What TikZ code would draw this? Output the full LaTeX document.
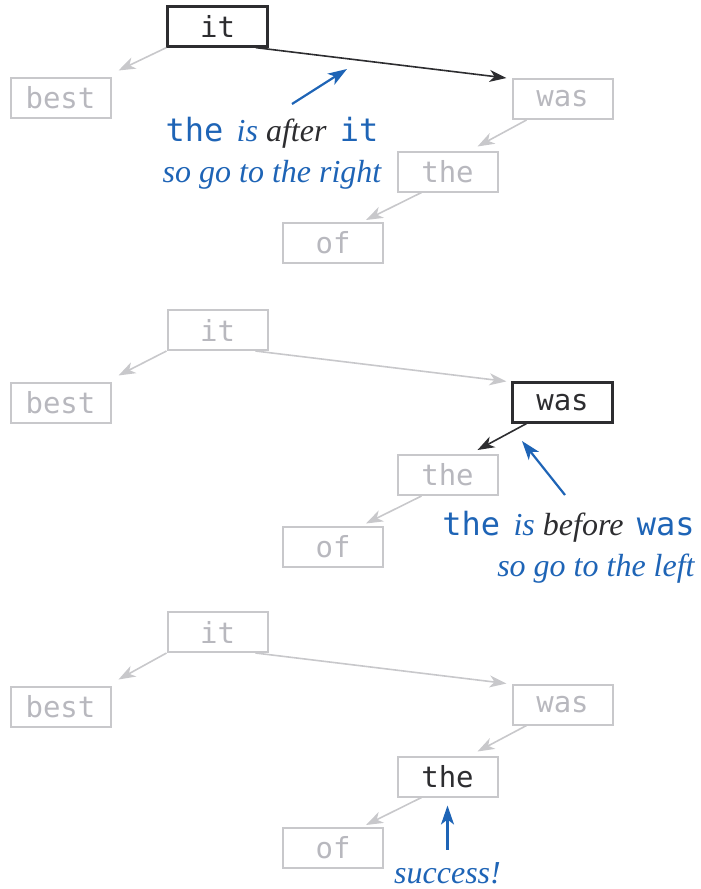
\documentclass[tikz,border=0pt]{standalone}
\usepackage{fontspec}
\setmonofont{DejaVu Sans Mono}
\newfontfamily\notefont{Liberation Serif}
\usepackage{tikz}
\usetikzlibrary{arrows.meta}
\definecolor{keygray}{RGB}{200,200,203}
\definecolor{keytext}{RGB}{184,184,190}
\definecolor{keyink}{RGB}{45,45,48}
\definecolor{noteblue}{RGB}{30,100,182}
\newcommand\bstkey[1]{{\upshape\ttfamily #1}}

\begin{document}
\begin{tikzpicture}[x=0.5pt,y=-0.5pt,
	key/.style={draw=keygray,line width=1pt,text=keytext,minimum width=50pt,minimum height=20pt,inner sep=0pt,font=\fontsize{14.5}{16}\selectfont\ttfamily},
	hit/.style={key,draw=keyink,text=keyink,line width=1.1pt},
	link/.style={draw=keygray,line width=0.8pt,-{Stealth[length=8.5pt,width=6pt,inset=2.5pt]}},
	hitlink/.style={link,draw=keyink},
	note/.style={text=noteblue,inner sep=0pt,font=\fontsize{16}{20.5}\selectfont\notefont\itshape},
	notearrow/.style={draw=noteblue,line width=1.1pt,-{Stealth[length=9.5pt,width=6.5pt,inset=2.5pt]}}]
    \useasboundingbox (0,0) rectangle (701,889);

    % search hits it, goes right
    \node[hit] (it1) at (217.5,26.5) {it};
    \node[key] (best1) at (60.5,97.5) {best};
    \node[key] (was1) at (562.5,99) {was};
    \node[key] (the1) at (447.5,171.5) {the};
    \node[key] (of1) at (333,243) {of};
    \draw[link] (it1.south west) -- ([xshift=3.5pt,yshift=3pt]best1.north east);
    \draw[hitlink] ([xshift=-6.5pt]it1.south east) -- ([xshift=-2.5pt]was1.north west);
    \draw[link] ([xshift=7.5pt]was1.south west) -- ([xshift=-10.5pt,yshift=2pt]the1.north east);
    \draw[link] ([xshift=12.5pt]the1.south west) -- ([xshift=-9pt,yshift=1pt]of1.north east);
    \node[note,align=center,anchor=north] (why1) at (272,117) {\bstkey{the}\, is {\color{keyink}after}\, \bstkey{it}\\so go to the right};
    \coordinate (tip1) at (347,69);
    \draw[notearrow] ([shift={(20,-13)}]why1.north) -- (tip1);

    % then goes left at was
    \begin{scope}[shift={(0,303.5)}]
    \node[key] (it2) at (217.5,26.5) {it};
    \node[key] (best2) at (60.5,99) {best};
    \node[hit] (was2) at (562.5,99) {was};
    \node[key] (the2) at (447.5,171.5) {the};
    \node[key] (of2) at (333,243) {of};
    \draw[link] (it2.south west) -- ([xshift=3.5pt,yshift=3pt]best2.north east);
    \draw[link] ([xshift=-6.5pt]it2.south east) -- ([xshift=-2.5pt]was2.north west);
    \draw[hitlink] ([xshift=7.5pt]was2.south west) -- ([xshift=-10.5pt,yshift=2pt]the2.north east);
    \draw[link] ([xshift=12.5pt]the2.south west) -- ([xshift=-9pt,yshift=1pt]of2.north east);
    \node[note,align=right,anchor=north east] (why2) at (695,207.5) {\bstkey{the}\, is {\color{keyink}before}\, \bstkey{was}\\so go to the left};
    \coordinate (tip2) at (522,137.5);
    \draw[notearrow] ([shift={(-130,-16)}]why2.north east) -- (tip2);
    \end{scope}

    % found
    \begin{scope}[shift={(0,605.5)}]
    \node[key] (it3) at (217.5,26.5) {it};
    \node[key] (best3) at (60.5,101) {best};
    \node[key] (was3) at (562.5,99) {was};
    \node[key,text=keyink] (the3) at (447.5,171) {the};
    \node[key] (of3) at (333,242.5) {of};
    \draw[link] (it3.south west) -- ([xshift=3.5pt,yshift=3pt]best3.north east);
    \draw[link] ([xshift=-6.5pt]it3.south east) -- ([xshift=-2.5pt]was3.north west);
    \draw[link] ([xshift=7.5pt]was3.south west) -- ([xshift=-10.5pt,yshift=2pt]the3.north east);
    \draw[link] ([xshift=12.5pt]the3.south west) -- ([xshift=-9pt,yshift=1pt]of3.north east);
    \node[note] (yay) at (447.5,267.5) {success!};
    \draw[notearrow,shorten <=6pt,shorten >=4pt] (yay.north) -- (the3.south);
    \end{scope}
\end{tikzpicture}
\end{document}
